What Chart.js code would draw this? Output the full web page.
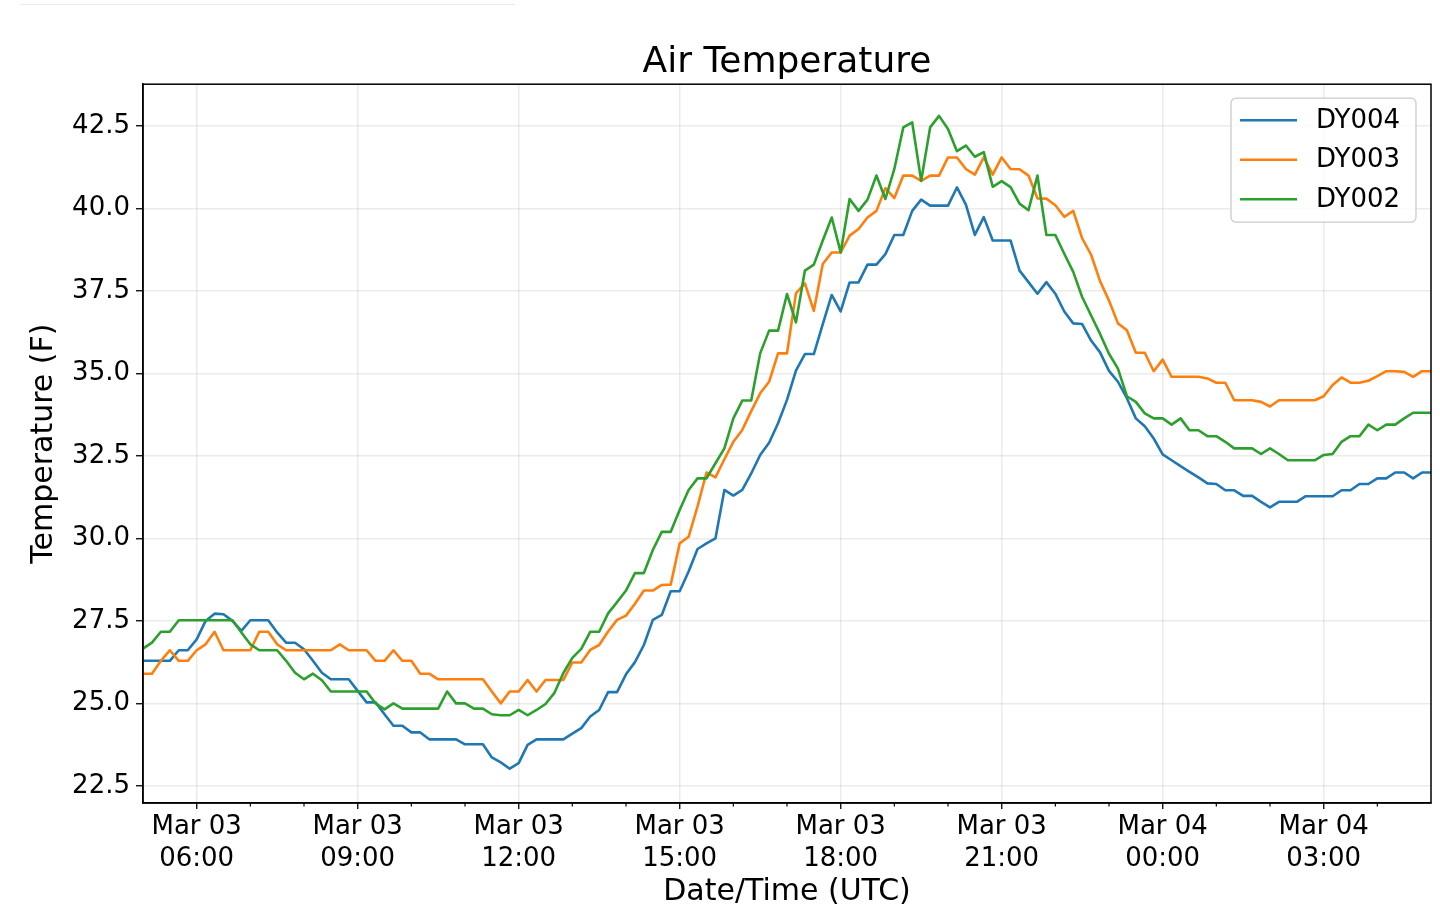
<!DOCTYPE html>
<html>
<head>
<meta charset="utf-8">
<title>Air Temperature</title>
<script src="https://cdn.jsdelivr.net/npm/chart.js@4.4.1/dist/chart.umd.min.js"></script>
<style>
  html, body { margin: 0; padding: 0; background: #fff; }
  #wrap { position: relative; width: 1440px; height: 920px; }
  #topline { position: absolute; left: 20px; top: 4px; width: 495px; border-top: 1px solid #ececec; }
</style>
</head>
<body>
<div id="wrap">
  <div id="topline"></div>
  <canvas id="tempChart" width="1440" height="920"></canvas>
</div>
<script>
// 10-minute readings from Mar 03 05:00 to Mar 04 05:00 (UTC)
const stepMinutes = 10;

const dy004 = [
  26.29, 26.29, 26.29, 26.29, 26.61, 26.61, 26.94, 27.5, 27.72, 27.7,
  27.5, 27.2, 27.52, 27.52, 27.52, 27.15, 26.84, 26.84, 26.64, 26.29,
  25.93, 25.73, 25.73, 25.73, 25.38, 25.03, 25.03, 24.67, 24.32, 24.32,
  24.12, 24.12, 23.91, 23.91, 23.91, 23.91, 23.76, 23.76, 23.76, 23.36,
  23.21, 23.02, 23.19, 23.74, 23.91, 23.91, 23.91, 23.91, 24.08, 24.25,
  24.6, 24.8, 25.34, 25.34, 25.88, 26.25, 26.77, 27.53, 27.68, 28.4,
  28.4, 29.0, 29.68, 29.85, 30.0, 31.47, 31.3, 31.47, 31.97, 32.53,
  32.9, 33.49, 34.2, 35.09, 35.59, 35.59, 36.5, 37.38, 36.88, 37.76,
  37.76, 38.3, 38.3, 38.62, 39.2, 39.2, 39.93, 40.27, 40.09, 40.09,
  40.09, 40.64, 40.12, 39.2, 39.74, 39.03, 39.03, 39.03, 38.12, 37.77,
  37.42, 37.77, 37.42, 36.88, 36.52, 36.5, 36.0, 35.64, 35.08, 34.75,
  34.25, 33.64, 33.4, 33.03, 32.55, 32.37, 32.19, 32.02, 31.85, 31.67,
  31.65, 31.46, 31.46, 31.29, 31.29, 31.11, 30.94, 31.11, 31.11, 31.11,
  31.28, 31.28, 31.28, 31.28, 31.46, 31.46, 31.65, 31.65, 31.82, 31.82,
  32.0, 32.0, 31.82, 32.0, 32.0
];

const dy003 = [
  25.9, 25.9, 26.29, 26.61, 26.29, 26.29, 26.61, 26.79, 27.17, 26.61,
  26.61, 26.61, 26.61, 27.17, 27.17, 26.79, 26.61, 26.61, 26.61, 26.61,
  26.61, 26.61, 26.79, 26.61, 26.61, 26.61, 26.29, 26.29, 26.61, 26.29,
  26.29, 25.9, 25.9, 25.73, 25.73, 25.73, 25.73, 25.73, 25.73, 25.36,
  25.0, 25.36, 25.36, 25.71, 25.36, 25.71, 25.71, 25.71, 26.24, 26.24,
  26.62, 26.77, 27.18, 27.53, 27.66, 28.02, 28.42, 28.42, 28.59, 28.6,
  29.85, 30.05, 30.97, 32.0, 31.85, 32.4, 32.93, 33.29, 33.86, 34.4,
  34.75, 35.61, 35.61, 37.43, 37.73, 36.9, 38.32, 38.67, 38.67, 39.18,
  39.38, 39.73, 39.93, 40.62, 40.32, 41.0, 41.0, 40.84, 41.0, 41.0,
  41.55, 41.55, 41.2, 41.03, 41.55, 41.03, 41.55, 41.2, 41.19, 41.0,
  40.31, 40.3, 40.1, 39.75, 39.93, 39.1, 38.6, 37.8, 37.21, 36.52,
  36.31, 35.63, 35.63, 35.07, 35.42, 34.9, 34.9, 34.9, 34.9, 34.85,
  34.72, 34.72, 34.19, 34.19, 34.19, 34.14, 34.0, 34.19, 34.19, 34.19,
  34.19, 34.19, 34.31, 34.65, 34.88, 34.72, 34.72, 34.78, 34.92, 35.07,
  35.07, 35.05, 34.9, 35.07, 35.07
];

const dy002 = [
  26.66, 26.84, 27.17, 27.17, 27.52, 27.52, 27.52, 27.52, 27.52, 27.52,
  27.52, 27.15, 26.79, 26.61, 26.61, 26.61, 26.29, 25.93, 25.73, 25.9,
  25.7, 25.36, 25.36, 25.36, 25.36, 25.36, 25.0, 24.82, 25.0, 24.84,
  24.84, 24.84, 24.84, 24.84, 25.36, 25.0, 25.0, 24.84, 24.84, 24.67,
  24.64, 24.64, 24.8, 24.64, 24.8, 24.98, 25.32, 25.92, 26.38, 26.65,
  27.17, 27.17, 27.73, 28.07, 28.42, 28.95, 28.95, 29.65, 30.2, 30.2,
  30.86, 31.47, 31.82, 31.82, 32.28, 32.73, 33.64, 34.18, 34.18, 35.61,
  36.3, 36.3, 37.41, 36.55, 38.12, 38.3, 39.03, 39.73, 38.67, 40.29,
  39.93, 40.27, 41.0, 40.29, 41.2, 42.46, 42.61, 40.84, 42.46, 42.81,
  42.41, 41.74, 41.91, 41.57, 41.71, 40.66, 40.83, 40.65, 40.15, 39.95,
  41.0, 39.2, 39.2, 38.63, 38.08, 37.32, 36.76, 36.2, 35.6, 35.15,
  34.31, 34.14, 33.79, 33.64, 33.64, 33.45, 33.64, 33.28, 33.28, 33.1,
  33.1, 32.93, 32.73, 32.73, 32.73, 32.56, 32.73, 32.56, 32.37, 32.37,
  32.37, 32.37, 32.53, 32.56, 32.93, 33.1, 33.1, 33.45, 33.28, 33.45,
  33.45, 33.64, 33.81, 33.81, 33.81
];

// x axis: minutes after Mar 03 05:00
const xTickMinutes = [60, 240, 420, 600, 780, 960, 1140, 1320];
const xTickDays = ['Mar 03', 'Mar 03', 'Mar 03', 'Mar 03', 'Mar 03', 'Mar 03', 'Mar 04', 'Mar 04'];
const xTickTimes = ['06:00', '09:00', '12:00', '15:00', '18:00', '21:00', '00:00', '03:00'];
const yTickValues = [22.5, 25.0, 27.5, 30.0, 32.5, 35.0, 37.5, 40.0, 42.5];

const font = 'DejaVu Sans';

function toPoints(values) {
  return values.map((v, i) => ({ x: i * stepMinutes, y: v }));
}

// black frame round the plot, like matplotlib spines
const framePlugin = {
  id: 'frame',
  afterDatasetsDraw(chart) {
    const { ctx, chartArea: a, scales } = chart;
    ctx.save();
    // minor hourly ticks on the x axis
    ctx.strokeStyle = '#000';
    ctx.lineWidth = 1.2;
    for (let m = 60; m < 1440; m += 60) {
      if (xTickMinutes.includes(m)) continue;
      const px = scales.x.getPixelForValue(m);
      ctx.beginPath();
      ctx.moveTo(px, a.bottom);
      ctx.lineTo(px, a.bottom + 3.5);
      ctx.stroke();
    }
    ctx.lineWidth = 1.5;
    ctx.strokeRect(a.left, a.top, a.right - a.left, a.bottom - a.top);
    ctx.restore();
  }
};

// legend box in the upper right of the plot
const boxLegendPlugin = {
  id: 'boxLegend',
  afterDraw(chart) {
    const { ctx, chartArea: a } = chart;
    const w = 185, h = 124;
    const x = a.right - 15 - w, y = a.top + 14;
    ctx.save();
    ctx.beginPath();
    ctx.roundRect(x, y, w, h, 5);
    ctx.fillStyle = 'rgba(255,255,255,0.8)';
    ctx.fill();
    ctx.strokeStyle = '#cccccc';
    ctx.lineWidth = 1.3;
    ctx.stroke();
    ctx.font = '26px "' + font + '"';
    ctx.textBaseline = 'middle';
    chart.data.datasets.forEach((ds, k) => {
      const ly = y + 22 + k * 39.5;
      ctx.strokeStyle = ds.borderColor;
      ctx.lineWidth = 2.5;
      ctx.beginPath();
      ctx.moveTo(x + 9, ly);
      ctx.lineTo(x + 66, ly);
      ctx.stroke();
      ctx.fillStyle = '#000';
      ctx.fillText(ds.label, x + 85, ly + 1);
    });
    ctx.restore();
  }
};

const ctx = document.getElementById('tempChart').getContext('2d');
new Chart(ctx, {
  type: 'line',
  data: {
    datasets: [
      { label: 'DY004', data: toPoints(dy004), borderColor: '#1f77b4', order: 3 },
      { label: 'DY003', data: toPoints(dy003), borderColor: '#ff7f0e', order: 2 },
      { label: 'DY002', data: toPoints(dy002), borderColor: '#2ca02c', order: 1 }
    ]
  },
  options: {
    responsive: false,
    animation: false,
    layout: { padding: { left: 0, right: 9, top: 0, bottom: 0 } },
    elements: {
      line: { borderWidth: 2.6, tension: 0, fill: false, borderJoinStyle: 'round' },
      point: { radius: 0, hoverRadius: 0 }
    },
    plugins: {
      legend: { display: false },
      tooltip: { enabled: false },
      title: {
        display: true,
        text: 'Air Temperature',
        fullSize: false,
        color: '#000',
        font: { family: font, size: 36, weight: 'normal' },
        padding: { top: 41, bottom: 0 }
      }
    },
    scales: {
      x: {
        type: 'linear',
        min: 0,
        max: 1440,
        afterBuildTicks(scale) {
          scale.ticks = xTickMinutes.map(v => ({ value: v }));
        },
        afterFit(scale) { scale.height = 117; },
        ticks: {
          autoSkip: false,
          maxRotation: 0,
          padding: 3,
          color: '#000',
          font: { family: font, size: 26 },
          callback(value) {
            const k = xTickMinutes.indexOf(value);
            return k >= 0 ? [xTickDays[k], xTickTimes[k]] : '';
          }
        },
        grid: {
          color: 'rgba(0,0,0,0.08)',
          lineWidth: 1.5,
          tickColor: '#000',
          tickLength: 6,
          tickWidth: 1.3
        },
        border: { color: '#000', width: 1.5 },
        title: {
          display: true,
          text: 'Date/Time (UTC)',
          color: '#000',
          font: { family: font, size: 30 },
          padding: { top: 0, bottom: 10 }
        }
      },
      y: {
        type: 'linear',
        min: 21.98,
        max: 43.77,
        afterBuildTicks(scale) {
          scale.ticks = yTickValues.map(v => ({ value: v }));
        },
        afterFit(scale) { scale.width = 143; },
        ticks: {
          padding: 6,
          color: '#000',
          font: { family: font, size: 26 },
          callback(value) { return value.toFixed(1); }
        },
        grid: {
          color: 'rgba(0,0,0,0.08)',
          lineWidth: 1.5,
          tickColor: '#000',
          tickLength: 7,
          tickWidth: 1.3
        },
        border: { color: '#000', width: 1.5 },
        title: {
          display: true,
          text: 'Temperature (F)',
          color: '#000',
          font: { family: font, size: 30 },
          padding: { top: 26, bottom: 0 }
        }
      }
    }
  },
  plugins: [framePlugin, boxLegendPlugin]
});
</script>
</body>
</html>
